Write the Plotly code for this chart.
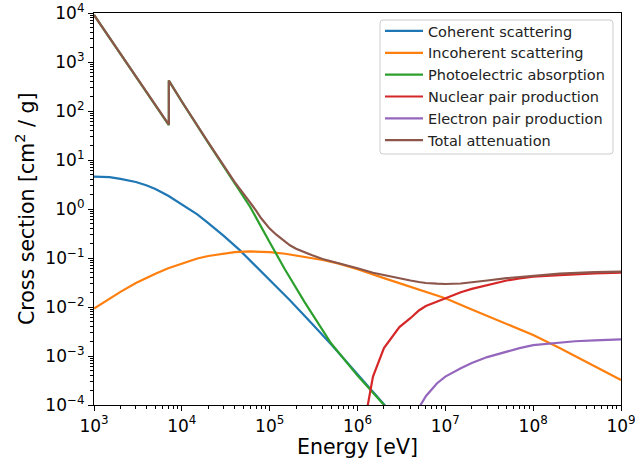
import plotly.graph_objects as go

# ---------------- data (energy in eV, cross section in cm^2/g) ----------------
coh_E = [1e3, 1.5e3, 2e3, 3e3, 4e3, 5e3, 7e3, 1e4, 1.5e4, 2e4, 2.5e4, 3e4, 4.5e4, 7e4, 1e5, 1.7e5, 3e5, 5e5, 1e6, 2e6, 3e6]
coh_S = [4.57, 4.47, 4.12, 3.55, 3.02, 2.57, 1.86, 1.26, 0.78, 0.513, 0.37, 0.282, 0.148, 0.0676, 0.0355, 0.0138,
         0.00468, 0.00174, 4.27e-4, 1.0e-4, 4.5e-5]

inc_E = [1e3, 1.5e3, 2e3, 3e3, 4e3, 5e3, 7e3, 1e4, 1.5e4, 2e4, 3e4, 4e4, 6e4, 1e5, 1.5e5, 2e5, 3e5, 4e5, 6e5, 8e5,
         1e6, 2e6, 5e6, 1e7, 2e7, 5e7, 1e8, 2e8, 5e8, 1e9]
inc_S = [0.0093, 0.0148, 0.0204, 0.0309, 0.0398, 0.0479, 0.0617, 0.0776, 0.0977, 0.110, 0.124, 0.132, 0.136, 0.132,
         0.122, 0.112, 0.100, 0.0912, 0.0776, 0.0676, 0.0589, 0.0389, 0.0224, 0.0151, 0.0089, 0.00447, 0.00269,
         0.00145, 6.2e-4, 3.24e-4]

pho_E = [1e3, 2e3, 3e3, 5e3, 7112, 7112, 1e4, 2e4, 3e4, 4e4, 6e4, 1e5, 1.5e5, 2.5e5, 5e5, 1e6, 2e6, 3e6]
pho_S = [9120, 1445, 490, 126, 51.3, 417, 155, 22.4, 7.24, 3.31, 1.10, 0.209, 0.0575, 0.0126, 0.00182, 3.98e-4, 9.8e-5, 4.5e-5]

nuc_E = [1.25e6, 1.5e6, 2e6, 3e6, 4e6, 5e6, 6e6, 7e6, 8e6, 1e7, 1.5e7, 2e7, 3e7, 4e7, 5e7, 7e7, 1e8, 2e8, 3e8, 5e8, 1e9]
nuc_S = [6.3e-5, 3.8e-4, 1.45e-3, 3.9e-3, 5.9e-3, 8.5e-3, 0.0105, 0.0117, 0.0132, 0.0151, 0.020, 0.0234, 0.0282,
         0.0316, 0.0347, 0.0385, 0.0417, 0.0447, 0.0468, 0.0484, 0.0501]

ele_E = [4e6, 5e6, 6e6, 8e6, 1e7, 1.5e7, 2e7, 3e7, 4e7, 5e7, 7e7, 1e8, 2e8, 3e8, 5e8, 1e9]
ele_S = [4.5e-5, 8.9e-5, 1.51e-4, 2.75e-4, 3.8e-4, 5.6e-4, 7.2e-4, 9.5e-4, 1.10e-3, 1.26e-3, 1.45e-3, 1.66e-3,
         1.86e-3, 2.0e-3, 2.09e-3, 2.19e-3]

tot_E = [1e3, 2e3, 3e3, 5e3, 7112, 7112, 1e4, 2e4, 3e4, 3.25e4, 4e4, 5e4, 6e4, 7e4, 8e4, 9e4, 1e5, 1.2e5, 1.4e5,
         1.7e5, 2e5, 2.5e5, 3e5, 4e5, 6e5, 8e5, 1e6, 1.5e6, 2e6, 3e6, 4e6, 5e6, 6e6, 8e6, 1e7, 1.5e7, 2e7, 3e7,
         5e7, 1e8, 2e8, 5e8, 1e9]
tot_S = [9120, 1450, 495, 127, 52.5, 418, 156, 22.8, 7.6, 6.3, 3.55, 2.09, 1.38, 0.93, 0.646, 0.513, 0.398, 0.295,
         0.234, 0.182, 0.155, 0.129, 0.115, 0.0955, 0.0794, 0.0692, 0.0617, 0.0501, 0.0447, 0.0389, 0.0347,
         0.0324, 0.0309, 0.0299, 0.0295, 0.0302, 0.0316, 0.0347, 0.0389, 0.0437, 0.0479, 0.0513, 0.0525]

series_names = ["Coherent scattering", "Incoherent scattering", "Photoelectric absorption",
                "Nuclear pair production", "Electron pair production", "Total attenuation"]
series_colors = ["#1f77b4", "#ff7f0e", "#2ca02c", "#d62728", "#9467bd", "#8c564b"]

x_tickvals = [1e3, 1e4, 1e5, 1e6, 1e7, 1e8, 1e9]
x_ticktext = ["10<sup>3</sup>", "10<sup>4</sup>", "10<sup>5</sup>", "10<sup>6</sup>",
              "10<sup>7</sup>", "10<sup>8</sup>", "10<sup>9</sup>"]
y_tickvals = [1e-4, 1e-3, 1e-2, 1e-1, 1e0, 1e1, 1e2, 1e3, 1e4]
y_ticktext = ["10<sup>\u22124</sup>", "10<sup>\u22123</sup>", "10<sup>\u22122</sup>", "10<sup>\u22121</sup>",
              "10<sup>0</sup>", "10<sup>1</sup>", "10<sup>2</sup>", "10<sup>3</sup>", "10<sup>4</sup>"]

FONT = "DejaVu Sans"
W, H = 635, 464
ML, MR, MT, MB = 94, 14, 13, 59
PW, PH = W - ML - MR, H - MT - MB


def px_x(p):
    return (p - ML) / PW


def px_y(p):
    return 1 - (p - MT) / PH


fig = go.Figure()
all_series = [(coh_E, coh_S), (inc_E, inc_S), (pho_E, pho_S), (nuc_E, nuc_S), (ele_E, ele_S), (tot_E, tot_S)]
for (xs, ys), name, color in zip(all_series, series_names, series_colors):
    fig.add_trace(go.Scatter(x=xs, y=ys, mode="lines", name=name,
                             line=dict(color=color, width=2.2)))

axis_common = dict(
    type="log", showgrid=False, zeroline=False, automargin=False, ticklabeloverflow="allow",
    showline=True, linecolor="black", linewidth=1.2, mirror=True,
    ticks="outside", ticklen=5, tickwidth=1.2, tickcolor="black",
    tickfont=dict(family=FONT, size=17, color="black"),
    tickmode="array",
    minor=dict(ticks="outside", ticklen=3, tickwidth=1, tickcolor="black", dtick="D1", showgrid=False),
)

fig.update_xaxes(range=[3, 9.00001], tickvals=x_tickvals, ticktext=x_ticktext, **axis_common)
fig.update_yaxes(range=[-4, 4], tickvals=y_tickvals, ticktext=y_ticktext, **axis_common)

# legend frame (rounded, light grey) drawn as a shape
lx0, lx1, ly0, ly1, r = 380, 613, 20, 154, 3
rx, ry = r / PW, r / PH
X0, X1, Y0, Y1 = px_x(lx0), px_x(lx1), px_y(ly1), px_y(ly0)
frame = (f"M{X0+rx},{Y0} L{X1-rx},{Y0} Q{X1},{Y0} {X1},{Y0+ry} L{X1},{Y1-ry} Q{X1},{Y1} {X1-rx},{Y1} "
         f"L{X0+rx},{Y1} Q{X0},{Y1} {X0},{Y1-ry} L{X0},{Y0+ry} Q{X0},{Y0} {X0+rx},{Y0} Z")

fig.update_layout(
    width=W, height=H,
    margin=dict(l=ML, r=MR, t=MT, b=MB),
    paper_bgcolor="white", plot_bgcolor="white",
    font=dict(family=FONT, color="black"),
    showlegend=True,
    legend=dict(x=px_x(lx0), y=px_y(15), xanchor="left", yanchor="top", itemwidth=38,
                bgcolor="rgba(0,0,0,0)", borderwidth=0,
                font=dict(family=FONT, size=14.5, color="#222222")),
    shapes=[dict(type="path", path=frame, xref="paper", yref="paper",
                 line=dict(color="#cccccc", width=1), fillcolor="rgba(255,255,255,0.8)", layer="below")],
    annotations=[
        dict(text="Energy [eV]", xref="paper", yref="paper", x=0.5, y=0,
             xanchor="center", yanchor="middle", yshift=-42, showarrow=False,
             font=dict(family=FONT, size=20.5, color="black")),
        dict(text="Cross section [cm<sup>2</sup> / g]", xref="paper", yref="paper", x=0, y=0.5,
             xanchor="center", yanchor="middle", xshift=-69, textangle=-90, showarrow=False,
             font=dict(family=FONT, size=20.5, color="black")),
    ],
)

fig.write_html("out.html", config={"displayModeBar": False},
               post_script="document.body.style.margin='0';document.body.style.overflow='hidden';")
